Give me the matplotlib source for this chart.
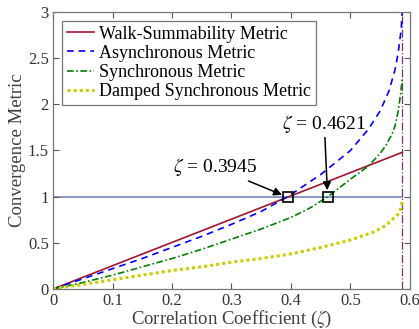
import matplotlib.pyplot as plt

plt.rcParams['font.family'] = ['Liberation Serif', 'DejaVu Serif']
plt.rcParams['mathtext.fontset'] = 'stix'

# values
zeta_limit = 0.587
walk_x = [0, zeta_limit]
walk_y = [0, 1.48]

async_x = [0, 0.05, 0.1, 0.15, 0.2, 0.25, 0.3, 0.35, 0.3945, 0.45, 0.5,
           0.53, 0.55, 0.565, 0.575, 0.58, 0.585, 0.587]
async_y = [0, 0.11, 0.22, 0.33, 0.45, 0.57, 0.70, 0.84, 1.0, 1.24, 1.5,
           1.73, 1.93, 2.15, 2.38, 2.55, 2.8, 3.0]

sync_x = [0, 0.05, 0.1, 0.15, 0.2, 0.25, 0.3, 0.35, 0.4, 0.43, 0.4621,
          0.5, 0.53, 0.55, 0.56, 0.57, 0.575, 0.58, 0.584, 0.587]
sync_y = [0, 0.07, 0.15, 0.24, 0.33, 0.43, 0.54, 0.65, 0.775, 0.87, 1.0,
          1.19, 1.33, 1.47, 1.56, 1.68, 1.77, 1.92, 2.1, 2.28]

damped_x = [0, 0.05, 0.1, 0.15, 0.2, 0.25, 0.3, 0.35, 0.4, 0.45, 0.5,
            0.54, 0.56, 0.573, 0.58, 0.584, 0.587]
damped_y = [0, 0.05, 0.10, 0.15, 0.2, 0.24, 0.29, 0.33, 0.38, 0.45, 0.53,
            0.62, 0.69, 0.77, 0.81, 0.86, 0.95]

marks_x = [0.3945, 0.4621]
marks_y = [1, 1]
labels = ['Walk-Summability Metric', 'Asynchronous Metric',
          'Synchronous Metric', 'Damped Synchronous Metric']

fig = plt.figure(figsize=(4.19, 3.29), dpi=100)
ax = fig.add_axes([0.1265, 0.1216, 0.852, 0.842])

ax.plot([0, zeta_limit], [1, 1], color='#7f93b5', lw=1.3, zorder=1)
ax.axvline(zeta_limit, color='#7e2f6e', lw=0.9, ls='-.', zorder=1)

ax.plot(walk_x, walk_y, color='#a2142f', lw=1.2, label=labels[0])
ax.plot(async_x, async_y, color='blue', lw=1.2, ls=(0, (4, 3)), label=labels[1])
ax.plot(sync_x, sync_y, color='green', lw=1.2, ls=(0, (4, 1.5, 1, 1.5)),
        label=labels[2])
ax.plot(damped_x, damped_y, color='#cccc00', lw=2.2, ls=(0, (1, 1)),
        label=labels[3])

ax.plot(marks_x, marks_y, 's', ms=7, mfc='none', mec='black', mew=1.2, zorder=5)

arrow = dict(arrowstyle='-|>', color='black', lw=1.1, mutation_scale=12,
             shrinkA=0, shrinkB=0)
ax.annotate(r'$\zeta$ = 0.3945', xy=(0.385, 1.02), xytext=(0.343, 1.2),
            arrowprops=arrow, fontsize=14, ha='right', va='bottom')
ax.annotate(r'$\zeta$ = 0.4621', xy=(0.461, 1.07), xytext=(0.456, 1.67),
            arrowprops=arrow, fontsize=14, ha='center', va='bottom')

ax.set_xlim(0, 0.6)
ax.set_ylim(0, 3)
ax.set_xticks([0, 0.1, 0.2, 0.3, 0.4, 0.5, 0.6])
ax.set_xticklabels(['0', '0.1', '0.2', '0.3', '0.4', '0.5', '0.6'])
ax.set_yticks([0, 0.5, 1, 1.5, 2, 2.5, 3])
ax.set_yticklabels(['0', '0.5', '1', '1.5', '2', '2.5', '3'])
ax.tick_params(direction='in', top=True, right=True, length=4, width=0.8,
               color='#555555', labelcolor='#333333', labelsize=12, pad=3)
for s in ax.spines.values():
    s.set_color('#777777')
    s.set_linewidth(0.9)

ax.set_xlabel(r'Correlation Coefficient ($\zeta$)', fontsize=13.5,
              color='#404040', labelpad=0)
ax.set_ylabel('Convergence Metric', fontsize=13.5, color='#404040', labelpad=1)

leg = ax.legend(loc='upper left', bbox_to_anchor=(0.0, 1.0), fontsize=13,
                frameon=True, fancybox=False, handlelength=1.5,
                handletextpad=0.3, borderpad=0.25, labelspacing=0.12,
                borderaxespad=0.5)
leg.get_frame().set_edgecolor('#555555')
leg.get_frame().set_linewidth(0.9)

fig.savefig('out.png', dpi=100)
